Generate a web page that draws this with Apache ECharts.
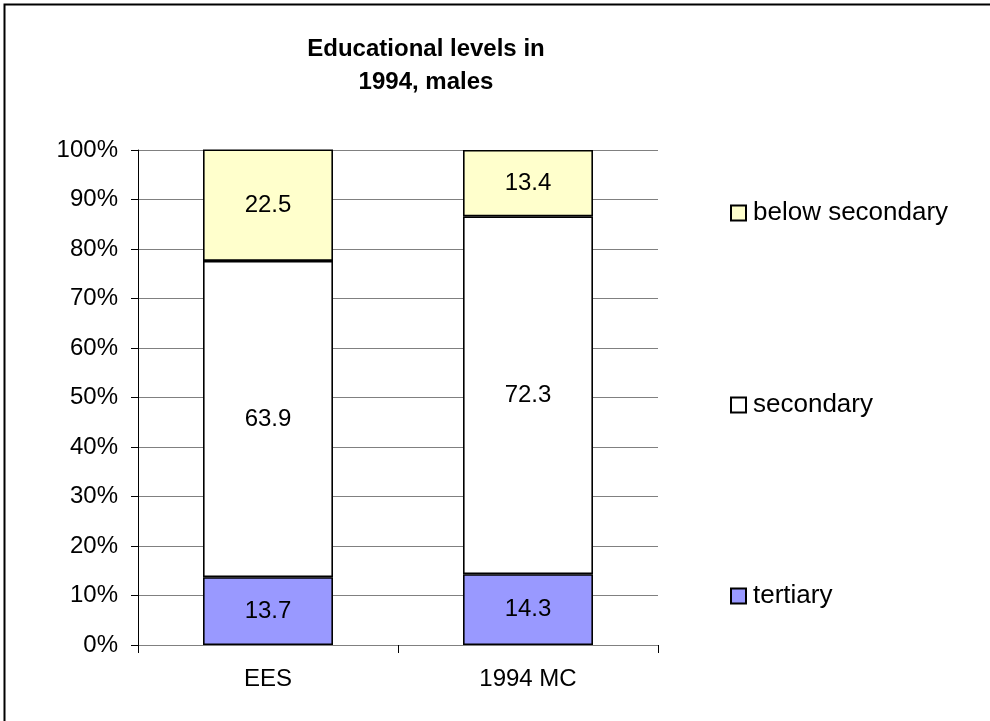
<!DOCTYPE html>
<html>
<head>
<meta charset="utf-8">
<script src="https://cdn.jsdelivr.net/npm/echarts@6/dist/echarts.min.js"></script>
<style>
html,body{margin:0;padding:0;background:#fff;}
#chart{width:990px;height:721px;}
</style>
</head>
<body>
<div id="chart"></div>
<script>
const categories = ['EES', '1994 MC'];
const tertiary = [13.7, 14.3];
const secondary = [63.9, 72.3];
const belowSecondary = [22.5, 13.4];
const yTicks = [0, 10, 20, 30, 40, 50, 60, 70, 80, 90, 100];

const FONT = 'Liberation Sans, Arial, sans-serif';
const chart = echarts.init(document.getElementById('chart'), null, {renderer: 'canvas'});

function barSeries(name, data, color) {
  return {
    name: name,
    type: 'bar',
    stack: 'total',
    barWidth: '50%',
    data: data,
    itemStyle: {color: color, borderColor: '#000', borderWidth: 1.6},
    label: {show: true, position: 'inside', color: '#000', fontSize: 24, fontFamily: FONT},
    emphasis: {disabled: true}
  };
}

function legendAt(name, top) {
  return {
    data: [name],
    orient: 'vertical',
    left: 730,
    top: top,
    icon: 'rect',
    itemWidth: 15,
    itemHeight: 15,
    itemGap: 0,
    padding: 0,
    selectedMode: false,
    itemStyle: {borderColor: '#000', borderWidth: 2},
    textStyle: {fontSize: 26, color: '#000', fontFamily: FONT, padding: [0, 0, 0, 2]}
  };
}

chart.setOption({
  backgroundColor: '#fff',
  animation: false,
  textStyle: {fontFamily: FONT},
  title: {
    text: 'Educational levels in\n1994, males',
    left: 421,
    top: 28,
    textAlign: 'center',
    textStyle: {fontSize: 24, fontWeight: 'bold', color: '#000', fontFamily: FONT, lineHeight: 33}
  },
  graphic: [{
    type: 'rect',
    shape: {x: 4.5, y: 4.5, width: 1200, height: 1000},
    style: {fill: 'none', stroke: '#000', lineWidth: 2},
    silent: true
  }],
  legend: [
    legendAt('below secondary', 200),
    legendAt('secondary', 392),
    legendAt('tertiary', 583)
  ],
  grid: {left: 138, right: 332, top: 150, bottom: 76},
  xAxis: {
    type: 'category',
    data: categories,
    axisLine: {lineStyle: {color: '#808080', width: 1}},
    axisTick: {show: true, length: 8, alignWithLabel: false, lineStyle: {color: '#000'}},
    axisLabel: {fontSize: 24, color: '#000', margin: 22, fontFamily: FONT}
  },
  yAxis: {
    type: 'value',
    min: yTicks[0],
    max: yTicks[yTicks.length - 1],
    interval: 10,
    axisLine: {show: true, lineStyle: {color: '#000', width: 1}},
    axisTick: {show: true, length: 7, lineStyle: {color: '#000'}},
    axisLabel: {fontSize: 24, color: '#000', margin: 20, formatter: '{value}%', fontFamily: FONT},
    splitLine: {show: true, lineStyle: {color: '#808080', width: 1}}
  },
  series: [
    barSeries('tertiary', tertiary, '#9999ff'),
    barSeries('secondary', secondary, '#ffffff'),
    barSeries('below secondary', belowSecondary, '#ffffcc')
  ]
});
</script>
</body>
</html>
